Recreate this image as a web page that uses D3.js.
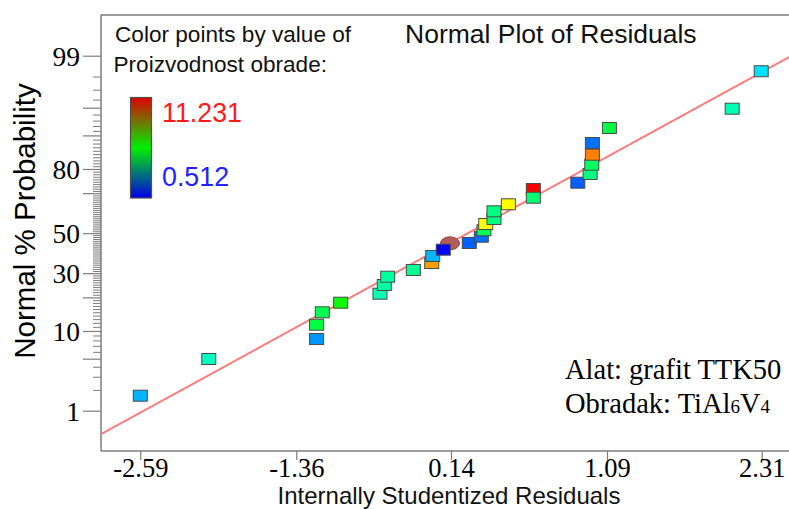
<!DOCTYPE html>
<html><head><meta charset="utf-8">
<script src="https://cdn.jsdelivr.net/npm/d3@7"></script>
<style>
html,body{margin:0;padding:0;background:#fff;}
svg{display:block;}
</style></head>
<body>
<svg id="chart" width="789" height="509"></svg>
<script>
// ---------- data ----------
const residuals = [-2.59, -2.05, -1.20, -1.20, -1.155, -1.01, -0.70, -0.666, -0.639, -0.437, -0.292, -0.284, -0.201, -0.148, 0.004, 0.099, 0.120, 0.134, 0.199, 0.199, 0.312, 0.509, 0.509, 0.860, 0.957, 0.970, 0.975, 0.975, 1.109, 2.077, 2.306];
const probability = [1.66, 4.96, 8.27, 11.52, 14.99, 18.12, 21.39, 24.86, 28.43, 31.49, 34.80, 38.25, 41.45, 44.74, 44.90, 48.17, 51.52, 54.80, 57.39, 61.29, 64.76, 71.88, 67.91, 74.60, 78.12, 81.54, 84.82, 88.14, 91.60, 94.86, 98.31];
const productivity = [2.40, 3.85, 2.09, 5.20, 5.03, 6.00, 4.02, 4.19, 4.19, 4.36, 9.55, 2.40, 0.512, null, 1.52, 1.69, 5.03, 8.55, 4.53, 4.53, 8.55, 11.231, 4.69, 1.52, 4.53, 4.86, 9.89, 1.69, 5.20, 4.02, 2.87];
const highlightedIndex = [13];
const refLineX = [-2.91, 2.53];
const refLineP = [0.41, 98.96];
const xTickValues = [-2.59, -1.36, -0.14, 1.09, 2.31];
const xTickLabels = ["-2.59", "-1.36", "0.14", "1.09", "2.31"];
const yLabeledTicks = [1, 10, 30, 50, 80, 99];
const yLongTicks = [1, 5, 10, 20, 30, 50, 70, 80, 90, 95, 99];
const colorMin = 0.512, colorMax = 11.231;

// ---------- helpers ----------
function probit(p){
  const a=[-3.969683028665376e+01,2.209460984245205e+02,-2.759285104469687e+02,1.383577518672690e+02,-3.066479806614716e+01,2.506628277459239e+00];
  const b=[-5.447609879822406e+01,1.615858368580409e+02,-1.556989798598866e+02,6.680131188771972e+01,-1.328068155288572e+01];
  const c=[-7.784894002430293e-03,-3.223964580411365e-01,-2.400758277161838e+00,-2.549732539343734e+00,4.374664141464968e+00,2.938163982698783e+00];
  const d=[7.784695709041462e-03,3.224671290700398e-01,2.445134137142996e+00,3.754408661907416e+00];
  const pl=0.02425, ph=1-pl; let q,r;
  if(p<pl){q=Math.sqrt(-2*Math.log(p));return (((((c[0]*q+c[1])*q+c[2])*q+c[3])*q+c[4])*q+c[5])/((((d[0]*q+d[1])*q+d[2])*q+d[3])*q+1);}
  if(p<=ph){q=p-0.5;r=q*q;return (((((a[0]*r+a[1])*r+a[2])*r+a[3])*r+a[4])*r+a[5])*q/(((((b[0]*r+b[1])*r+b[2])*r+b[3])*r+b[4])*r+1);}
  q=Math.sqrt(-2*Math.log(1-p));return -(((((c[0]*q+c[1])*q+c[2])*q+c[3])*q+c[4])*q+c[5])/((((d[0]*q+d[1])*q+d[2])*q+d[3])*q+1);
}
const zOf = p => probit(p/100);

// ---------- layout ----------
const svg = d3.select("#chart");
const L = 101, T = 15, B = 451, R = 789;
const SANS = "'Liberation Sans', Arial, sans-serif";
const SERIF = "'Liberation Serif', 'Times New Roman', serif";
const AXIS_COLOR = "#7d7d7d";

const x = d3.scaleLinear().domain([-2.59, 2.31]).range([140.3, 761.7]);
const z = d3.scaleLinear().domain([zOf(1), zOf(99)]).range([410.7, 55.7]);
const y = p => z(zOf(p));

const color = d3.scaleLinear()
  .domain(d3.range(5).map(i => colorMin + i*(colorMax-colorMin)/4))
  .range(["#0000ff", "#00ffff", "#00ff00", "#ffff00", "#ff0000"]);

// clip
svg.append("defs").append("clipPath").attr("id","plotclip")
  .append("rect").attr("x",L).attr("y",T).attr("width",R-L).attr("height",B-T);

// minor y ticks
const minorP = d3.range(2, 99).filter(p => !yLongTicks.includes(p));
svg.append("g").attr("transform",`translate(${L},0)`)
  .call(d3.axisLeft(z).tickValues(minorP.map(zOf)).tickSize(8).tickFormat(""))
  .call(g => g.select(".domain").remove())
  .call(g => g.selectAll("line").attr("stroke", AXIS_COLOR).attr("stroke-width",1));

// long y ticks with labels
svg.append("g").attr("transform",`translate(${L},0)`)
  .call(d3.axisLeft(z).tickValues(yLongTicks.map(zOf)).tickSize(18).tickPadding(3)
    .tickFormat((d,i) => yLabeledTicks.includes(yLongTicks[i]) ? String(yLongTicks[i]) : ""))
  .call(g => g.select(".domain").remove())
  .call(g => g.selectAll("line").attr("stroke", AXIS_COLOR).attr("stroke-width",1.2))
  .call(g => g.selectAll("text").attr("font-family", SERIF).attr("font-size", 27.5).attr("fill","#000").attr("dy","0.34em"));

// x axis
svg.append("g").attr("transform",`translate(0,${B})`)
  .call(d3.axisBottom(x).tickValues(xTickValues).tickSize(9).tickPadding(0)
    .tickFormat((d,i) => xTickLabels[i]))
  .call(g => g.select(".domain").remove())
  .call(g => g.selectAll("line").attr("stroke", AXIS_COLOR).attr("stroke-width",1.2))
  .call(g => g.selectAll("text").attr("font-family", SERIF).attr("font-size", 26.5).attr("fill","#000")
      .attr("dy", null).attr("y", 26))
  .call(g => g.selectAll("text").each(function(){
      // keep labels from running past the left edge of the plot frame
      const bb = this.getBBox();
      const tick = this.parentNode.getAttribute("transform").match(/translate\(([-\d.]+)/);
      const tx = tick ? +tick[1] : 0;
      const left = tx + bb.x;
      if (left < L - 2) d3.select(this).attr("x", (L - 2) - left);
  }));

// frame lines
svg.append("line").attr("x1",L).attr("x2",L).attr("y1",T).attr("y2",B).attr("stroke",AXIS_COLOR).attr("stroke-width",1.5);
svg.append("line").attr("x1",L).attr("x2",R).attr("y1",T).attr("y2",T).attr("stroke",AXIS_COLOR).attr("stroke-width",1.5);
svg.append("line").attr("x1",L).attr("x2",R).attr("y1",B).attr("y2",B).attr("stroke",AXIS_COLOR).attr("stroke-width",1.5);

// reference line
const plot = svg.append("g").attr("clip-path","url(#plotclip)");
plot.append("path")
  .datum(refLineX.map((v,i)=>[v, refLineP[i]]))
  .attr("d", d3.line().x(d=>x(d[0])).y(d=>y(d[1])))
  .attr("fill","none").attr("stroke","#ff7b7b").attr("stroke-width",2);

// points
const pts = residuals.map((r,i)=>({r, p:probability[i], v:productivity[i], hl: highlightedIndex.includes(i)}));
const hlPts = pts.filter(d=>d.hl), normPts = pts.filter(d=>!d.hl);
plot.selectAll("ellipse.hl").data(hlPts).join("ellipse")
  .attr("cx", d=>x(d.r)).attr("cy", d=>y(d.p)).attr("rx",9.5).attr("ry",6.5)
  .attr("fill","#b55a5a").attr("stroke","#8a4a4a").attr("stroke-width",1);
const W = 14, H = 11;
plot.selectAll("rect.pt").data(normPts).join("rect").attr("class","pt")
  .attr("x", d=>x(d.r)-W/2).attr("y", d=>y(d.p)-H/2).attr("width",W).attr("height",H)
  .attr("fill", d=>color(d.v)).attr("stroke","#4a4a4a").attr("stroke-width",1);

// title
svg.append("text").attr("x",405).attr("y",43).attr("font-family",SANS).attr("font-size",26.5).attr("fill","#111")
  .text("Normal Plot of Residuals");

// color legend
svg.append("text").attr("x",115).attr("y",41.5).attr("font-family",SANS).attr("font-size",22.6).attr("fill","#111")
  .text("Color points by value of");
svg.append("text").attr("x",113.5).attr("y",71.5).attr("font-family",SANS).attr("font-size",22.6).attr("fill","#111")
  .text("Proizvodnost obrade:");
const grad = svg.select("defs").append("linearGradient").attr("id","lg").attr("x1",0).attr("y1",0).attr("x2",0).attr("y2",1);
grad.append("stop").attr("offset","0%").attr("stop-color","#e00000");
grad.append("stop").attr("offset","50%").attr("stop-color","#00f000");
grad.append("stop").attr("offset","100%").attr("stop-color","#0000e8");
svg.append("rect").attr("x",130.5).attr("y",97.5).attr("width",21).attr("height",100.5)
  .attr("fill","url(#lg)").attr("stroke","#505050").attr("stroke-width",1.2);
svg.append("text").attr("x",162).attr("y",121.5).attr("font-family",SANS).attr("font-size",26.8).attr("fill","#ff1a1a")
  .text(d3.format(".3f")(colorMax));
svg.append("text").attr("x",162).attr("y",186).attr("font-family",SANS).attr("font-size",26.8).attr("fill","#2222ff")
  .text(d3.format(".3f")(colorMin));

// annotation
svg.append("text").attr("x",565).attr("y",378.5).attr("font-family",SERIF).attr("font-size",28.5).attr("fill","#000")
  .text("Alat: grafit TTK50");
const t2 = svg.append("text").attr("x",565).attr("y",413).attr("font-family",SERIF).attr("font-size",28.5).attr("fill","#000");
t2.append("tspan").text("Obradak: TiAl");
t2.append("tspan").attr("font-size",19).text("6");
t2.append("tspan").text("V");
t2.append("tspan").attr("font-size",19).text("4");

// axis titles
svg.append("text").attr("transform","translate(35,221) rotate(-90)").attr("text-anchor","middle")
  .attr("font-family",SANS).attr("font-size",29.5).attr("fill","#000").text("Normal % Probability");
svg.append("text").attr("x",449).attr("y",503.5).attr("text-anchor","middle")
  .attr("font-family",SANS).attr("font-size",24).attr("fill","#111").text("Internally Studentized Residuals");
</script>
</body></html>
